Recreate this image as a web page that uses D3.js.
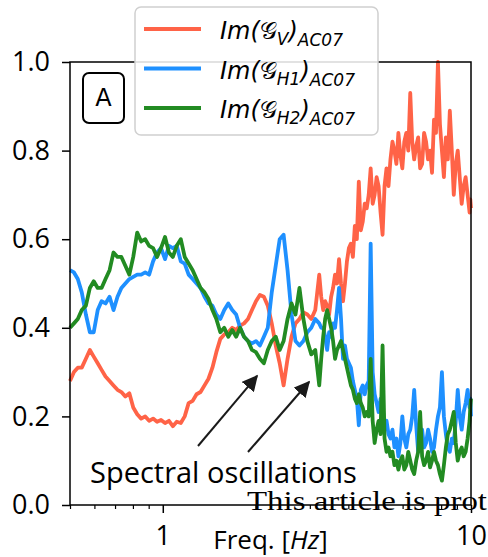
<!DOCTYPE html>
<html>
<head>
<meta charset="utf-8">
<script src="https://cdn.jsdelivr.net/npm/d3@7"></script>
<style>
  body { margin: 0; background: #fff; }
  svg { display: block; }
</style>
</head>
<body>
<svg id="chart" width="488" height="557"></svg>
<script>
// ---------------------------//
//      DATA                  //
// ---------------------------//

// frequency samples [Hz] (log spaced, denser above ~3 Hz where the curves are spiky)
var freqs = [0.50, 0.515, 0.53, 0.546, 0.563, 0.58, 0.597, 0.615, 0.633, 0.652,
  0.672, 0.692, 0.713, 0.734, 0.756, 0.779, 0.802, 0.826, 0.851, 0.877,
  0.903, 0.93, 0.958, 0.987, 1.017, 1.047, 1.078, 1.11, 1.144, 1.178,
  1.213, 1.25, 1.287, 1.326, 1.366, 1.407, 1.449, 1.492, 1.537, 1.583,
  1.631, 1.68, 1.73, 1.782, 1.835, 1.89, 1.947, 2.006, 2.066, 2.128,
  2.191, 2.257, 2.325, 2.395, 2.466, 2.54, 2.617, 2.695, 2.776, 2.859,
  2.945, 3.033, 3.124,
  3.218, 3.266, 3.315, 3.364, 3.414, 3.465, 3.517, 3.569, 3.622, 3.676,
  3.731, 3.787, 3.843, 3.900, 3.958, 4.017, 4.077, 4.138, 4.199, 4.262,
  4.325, 4.390, 4.455, 4.521, 4.589, 4.657, 4.726, 4.797, 4.868, 4.941,
  5.014, 5.089, 5.165, 5.242, 5.32, 5.399, 5.479, 5.561, 5.644, 5.728,
  5.813, 5.899, 5.987, 6.076, 6.167, 6.259, 6.352, 6.446, 6.542, 6.640,
  6.739, 6.839, 6.941, 7.044, 7.149, 7.256, 7.364, 7.474, 7.585, 7.698,
  7.812, 7.929, 8.047, 8.167, 8.288, 8.411, 8.537, 8.664, 8.793, 8.924,
  9.057, 9.192, 9.328, 9.467, 9.608, 9.751, 9.896, 9.948, 10.0];

// Im(G_V)
var imV = [0.28, 0.30, 0.31, 0.31, 0.33, 0.35, 0.335, 0.32, 0.305, 0.29,
  0.28, 0.27, 0.26, 0.255, 0.245, 0.252, 0.22, 0.205, 0.195, 0.2,
  0.19, 0.195, 0.188, 0.192, 0.185, 0.19, 0.178, 0.188, 0.185, 0.2,
  0.23, 0.235, 0.25, 0.255, 0.27, 0.285, 0.31, 0.345, 0.375, 0.385,
  0.39, 0.4, 0.395, 0.405, 0.41, 0.42, 0.44, 0.46, 0.474, 0.47,
  0.45, 0.41, 0.36, 0.32, 0.27, 0.33, 0.38, 0.41, 0.42, 0.435,
  0.43, 0.42, 0.44,
  0.52, 0.47, 0.44, 0.46, 0.45, 0.43, 0.47, 0.49, 0.52, 0.50,
  0.555, 0.50, 0.46, 0.50, 0.55, 0.58, 0.59, 0.56, 0.63, 0.60,
  0.73, 0.62, 0.64, 0.68, 0.67, 0.70, 0.76, 0.68, 0.70, 0.74,
  0.72, 0.66, 0.61, 0.72, 0.76, 0.72, 0.78, 0.82, 0.80, 0.77,
  0.84, 0.79, 0.76, 0.82, 0.84, 0.80, 0.93, 0.82, 0.78, 0.81,
  0.83, 0.76, 0.77, 0.84, 0.82, 0.78, 0.80, 0.75, 0.87, 0.84,
  1.00, 0.86, 0.80, 0.74, 0.83, 0.78, 0.89, 0.80, 0.70, 0.77,
  0.80, 0.74, 0.68, 0.72, 0.74, 0.70, 0.66, 0.69, 0.67];

// Im(G_H1)
var imH1 = [0.53, 0.525, 0.51, 0.48, 0.43, 0.39, 0.39, 0.44, 0.46, 0.455,
  0.47, 0.44, 0.47, 0.49, 0.5, 0.51, 0.515, 0.52, 0.52, 0.525,
  0.52, 0.55, 0.57, 0.58, 0.555, 0.585, 0.58, 0.585, 0.55, 0.545,
  0.52, 0.51, 0.5, 0.49, 0.47, 0.455, 0.45, 0.43, 0.42, 0.44,
  0.455, 0.44, 0.43, 0.40, 0.38, 0.37, 0.365, 0.37, 0.36, 0.38,
  0.40, 0.48, 0.54, 0.60, 0.61, 0.53, 0.43, 0.37, 0.36, 0.37,
  0.39, 0.40, 0.42,
  0.41, 0.40, 0.40, 0.38, 0.35, 0.39, 0.38, 0.41, 0.40, 0.44,
  0.49, 0.42, 0.33, 0.36, 0.33, 0.32, 0.31, 0.28, 0.26, 0.24,
  0.18, 0.26, 0.27, 0.25, 0.27, 0.28, 0.59, 0.30, 0.25, 0.23,
  0.21, 0.24, 0.22, 0.18, 0.19, 0.16, 0.15, 0.17, 0.13, 0.15,
  0.11, 0.14, 0.20, 0.15, 0.13, 0.16, 0.17, 0.20, 0.26, 0.18,
  0.12, 0.15, 0.17, 0.13, 0.14, 0.17, 0.15, 0.12, 0.13, 0.17,
  0.20, 0.22, 0.30, 0.20, 0.16, 0.13, 0.12, 0.15, 0.14, 0.19,
  0.26, 0.20, 0.17, 0.21, 0.23, 0.26, 0.22, 0.24, 0.20];

// Im(G_H2)
var imH2 = [0.40, 0.41, 0.42, 0.44, 0.45, 0.49, 0.505, 0.49, 0.49, 0.51,
  0.53, 0.57, 0.56, 0.56, 0.54, 0.52, 0.56, 0.615, 0.595, 0.60,
  0.585, 0.58, 0.56, 0.58, 0.605, 0.57, 0.56, 0.585, 0.60, 0.56,
  0.545, 0.53, 0.51, 0.49, 0.48, 0.465, 0.44, 0.42, 0.39, 0.40,
  0.38, 0.395, 0.38, 0.40, 0.38, 0.37, 0.35, 0.345, 0.33, 0.32,
  0.35, 0.37, 0.38, 0.35, 0.37, 0.42, 0.455, 0.43, 0.49, 0.42,
  0.37, 0.34, 0.35,
  0.27, 0.33, 0.38, 0.42, 0.44, 0.42, 0.40, 0.37, 0.33, 0.35,
  0.36, 0.37, 0.35, 0.33, 0.31, 0.29, 0.27, 0.26, 0.24, 0.23,
  0.25, 0.23, 0.22, 0.20, 0.21, 0.20, 0.33, 0.19, 0.14, 0.17,
  0.19, 0.16, 0.36, 0.15, 0.12, 0.13, 0.11, 0.12, 0.09, 0.10,
  0.08, 0.10, 0.11, 0.08, 0.09, 0.12, 0.10, 0.08, 0.07, 0.10,
  0.12, 0.21, 0.11, 0.09, 0.10, 0.12, 0.085, 0.10, 0.12, 0.10,
  0.09, 0.07, 0.055, 0.09, 0.13, 0.16, 0.17, 0.19, 0.21, 0.14,
  0.10, 0.12, 0.13, 0.11, 0.12, 0.15, 0.19, 0.22, 0.24];

var seriesNames = ["V", "H1", "H2"];
var seriesColors = ["#ff6347", "#1e90ff", "#228b22"];
var yTicks = [0.0, 0.2, 0.4, 0.6, 0.8, 1.0];
var xMajorTicks = [1, 10];
var xMinorTicks = [0.5, 0.6, 0.7, 0.8, 0.9, 2, 3, 4, 5, 6, 7, 8, 9];

// ---------------------------//
//      SETUP                 //
// ---------------------------//
const svg = d3.select("#chart");
const plot = { left: 70, right: 471, top: 62, bottom: 505 };

var x = d3.scaleLog().domain([0.5, 10]).range([plot.left, plot.right]);
var y = d3.scaleLinear().domain([0, 1]).range([plot.bottom, plot.top]);

const tickFont = "'Open Sans', sans-serif";

// ---------------------------//
//      LINES                 //
// ---------------------------//
var line = d3.line()
  .x(d => x(d[0]))
  .y(d => y(d[1]));

[imV, imH1, imH2].forEach(function(vals, i) {
  svg.append("path")
    .datum(freqs.map((f, j) => [f, vals[j]]))
    .attr("d", line)
    .attr("fill", "none")
    .attr("stroke", seriesColors[i])
    .attr("stroke-width", 3.8)
    .attr("stroke-linejoin", "round");
});

// frame
svg.append("rect")
  .attr("x", plot.left).attr("y", plot.top)
  .attr("width", plot.right - plot.left)
  .attr("height", plot.bottom - plot.top)
  .attr("fill", "none")
  .attr("stroke", "#000")
  .attr("stroke-width", 1.5);

// ---------------------------//
//      AXES                  //
// ---------------------------//
var yAxis = d3.axisLeft(y).tickValues(yTicks).tickFormat(d3.format(".1f")).tickSize(8).tickPadding(12);
var yG = svg.append("g").attr("transform", "translate(" + plot.left + ",0)").call(yAxis);
yG.select(".domain").remove();
yG.selectAll("line").attr("stroke-width", 1.5);
yG.selectAll("text").attr("font-family", tickFont).attr("font-size", 27).attr("fill", "#000");

var xAxis = d3.axisBottom(x).tickValues(xMajorTicks).tickFormat(d3.format("d")).tickSize(8).tickPadding(13);
var xG = svg.append("g").attr("transform", "translate(0," + plot.bottom + ")").call(xAxis);
xG.select(".domain").remove();
xG.selectAll("line").attr("stroke-width", 1.5);
xG.selectAll("text").attr("font-family", tickFont).attr("font-size", 27).attr("fill", "#000");

var xMinor = d3.axisBottom(x).tickValues(xMinorTicks).tickFormat("").tickSize(4);
var xmG = svg.append("g").attr("transform", "translate(0," + plot.bottom + ")").call(xMinor);
xmG.select(".domain").remove();
xmG.selectAll("line").attr("stroke-width", 1.2);

// x label: Freq. [Hz]
var xl = svg.append("text")
  .attr("x", (plot.left + plot.right) / 2)
  .attr("y", 549)
  .attr("text-anchor", "middle")
  .attr("font-family", tickFont)
  .attr("font-size", 26);
xl.append("tspan").text("Freq. [");
xl.append("tspan").attr("font-style", "italic").text("Hz");
xl.append("tspan").text("]");

// ---------------------------//
//      PANEL LABEL + ARROWS  //
// ---------------------------//
svg.append("rect")
  .attr("x", 83).attr("y", 73).attr("width", 41).attr("height", 50)
  .attr("rx", 6).attr("fill", "#fff").attr("stroke", "#000").attr("stroke-width", 2);
svg.append("text")
  .attr("x", 103.5).attr("y", 106)
  .attr("text-anchor", "middle")
  .attr("font-family", "'DejaVu Sans', sans-serif")
  .attr("font-size", 24)
  .text("A");

svg.append("defs").append("marker")
  .attr("id", "head")
  .attr("viewBox", "0 0 10 10")
  .attr("refX", 9).attr("refY", 5)
  .attr("markerWidth", 8).attr("markerHeight", 8)
  .attr("markerUnits", "strokeWidth")
  .attr("orient", "auto")
  .append("path").attr("d", "M0,0 L10,5 L0,10 z").attr("fill", "#1a1a1a");

var arrows = [[198, 446, 257, 376], [248, 452, 309, 382]];
arrows.forEach(function(a) {
  svg.append("line")
    .attr("x1", a[0]).attr("y1", a[1]).attr("x2", a[2]).attr("y2", a[3])
    .attr("stroke", "#1a1a1a").attr("stroke-width", 2)
    .attr("marker-end", "url(#head)");
});

svg.append("text")
  .attr("x", 90).attr("y", 483)
  .attr("font-family", tickFont)
  .attr("font-size", 29)
  .text("Spectral oscillations");

// ---------------------------//
//      LEGEND                //
// ---------------------------//
var legend = svg.append("g");
legend.append("rect")
  .attr("x", 135).attr("y", 7).attr("width", 243).attr("height", 128)
  .attr("rx", 6)
  .attr("fill", "#fff").attr("fill-opacity", 0.85)
  .attr("stroke", "#d0d0d0").attr("stroke-width", 1.5);

seriesNames.forEach(function(name, i) {
  var ly = 29 + i * 39.5;
  legend.append("line")
    .attr("x1", 144).attr("x2", 201).attr("y1", ly).attr("y2", ly)
    .attr("stroke", seriesColors[i]).attr("stroke-width", 3.8);
  var t = legend.append("text")
    .attr("x", 220).attr("y", ly + 10)
    .attr("font-family", "'DejaVu Sans', sans-serif")
    .attr("font-style", "italic")
    .attr("font-size", 24);
  t.append("tspan").text("Im(");
  t.append("tspan").attr("font-style", "normal").text("\uD835\uDCA2");
  t.append("tspan").attr("dy", 6).attr("font-size", 17).text(name);
  t.append("tspan").attr("dy", -6).text(")");
  t.append("tspan").attr("dy", 7).attr("font-size", 17).text("AC07");
});

// watermark text that crosses the bottom axis (cut at the right edge in the source)
svg.append("text")
  .attr("x", 247).attr("y", 510)
  .attr("font-family", "'Liberation Serif', serif")
  .attr("font-size", 27)
  .attr("textLength", 240)
  .attr("lengthAdjust", "spacingAndGlyphs")
  .text("This article is prot");
</script>
</body>
</html>
